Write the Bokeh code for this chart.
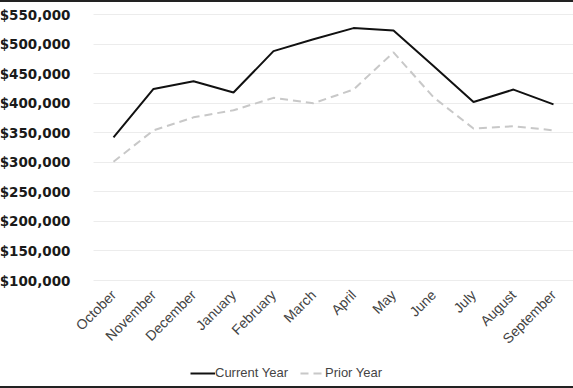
import math
from bokeh.plotting import figure
from bokeh.models import (Range1d, FixedTicker, NumeralTickFormatter, BoxAnnotation)
from bokeh.embed import file_html
from bokeh.resources import INLINE

months = ["October", "November", "December", "January", "February", "March",
          "April", "May", "June", "July", "August", "September"]
current_year = [342000, 424000, 437000, 418000, 488000, 508000,
                527000, 523000, 463000, 402000, 423000, 398000]
prior_year = [301000, 354000, 376000, 388000, 409000, 400000,
              423000, 486000, 410000, 357000, 361000, 354000]
y_ticks = [100000, 150000, 200000, 250000, 300000, 350000,
           400000, 450000, 500000, 550000]

xs = list(range(len(months)))

# The frame covers the whole canvas; axes are pinned inside it so that the
# legend can sit underneath the month labels.
p = figure(x_range=Range1d(-2.825, len(months) - 0.5),
           y_range=Range1d(-86090, 570301),
           width=573, height=388,
           output_backend="svg", toolbar_location=None,
           min_border_left=0, min_border_right=0, min_border_top=0,
           min_border_bottom=0)
p.styles = {"border-top": "2px solid #222222", "border-bottom": "2px solid #222222"}
p.outline_line_color = None
p.background_fill_color = "white"
p.border_fill_color = "white"

p.line(xs, current_year, line_color="#111111", line_width=2, legend_label="Current Year")
p.line(xs, prior_year, line_color="#c8c8c8", line_width=2, line_dash="8 5",
       legend_label="Prior Year")

# y axis
p.yaxis.fixed_location = -0.5
p.yaxis.ticker = FixedTicker(ticks=y_ticks)
p.yaxis.formatter = NumeralTickFormatter(format="$0,0")
p.yaxis.major_label_text_font = "DejaVu Sans"
p.yaxis.major_label_text_font_style = "bold"
p.yaxis.major_label_text_font_size = "13.5px"
p.yaxis.major_label_text_color = "#1a1a1a"
p.yaxis.major_label_standoff = 17

# x axis
p.xaxis.fixed_location = y_ticks[0]
p.xaxis.ticker = FixedTicker(ticks=xs)
p.xaxis.major_label_overrides = {i: m for i, m in zip(xs, months)}
p.xaxis.major_label_orientation = math.pi / 4
p.xaxis.major_label_text_font = "Liberation Sans"
p.xaxis.major_label_text_font_size = "14px"
p.xaxis.major_label_text_color = "#444444"
p.xaxis.major_label_standoff = 6

for ax in (p.xaxis, p.yaxis):
    ax.axis_line_color = None
    ax.major_tick_line_color = None
    ax.minor_tick_line_color = None

p.xgrid.grid_line_color = None
p.ygrid.ticker = FixedTicker(ticks=y_ticks)
p.ygrid.grid_line_color = "#ececec"
p.ygrid.grid_line_width = 1

# keep the grid out of the label column
p.add_layout(BoxAnnotation(right=-0.5, fill_color="white", fill_alpha=1,
                           line_color=None, level="underlay"))

lg = p.legend[0]
lg.orientation = "horizontal"
lg.location = (190, 10)
lg.label_text_font = "Liberation Sans"
lg.label_text_font_size = "13px"
lg.label_text_color = "#444444"
lg.border_line_color = None
lg.background_fill_alpha = 0
lg.glyph_width = 25
lg.glyph_height = 14
lg.spacing = 12
lg.label_standoff = 0
lg.margin = 0
lg.padding = 2

open("out.html", "w").write(file_html(p, INLINE))
